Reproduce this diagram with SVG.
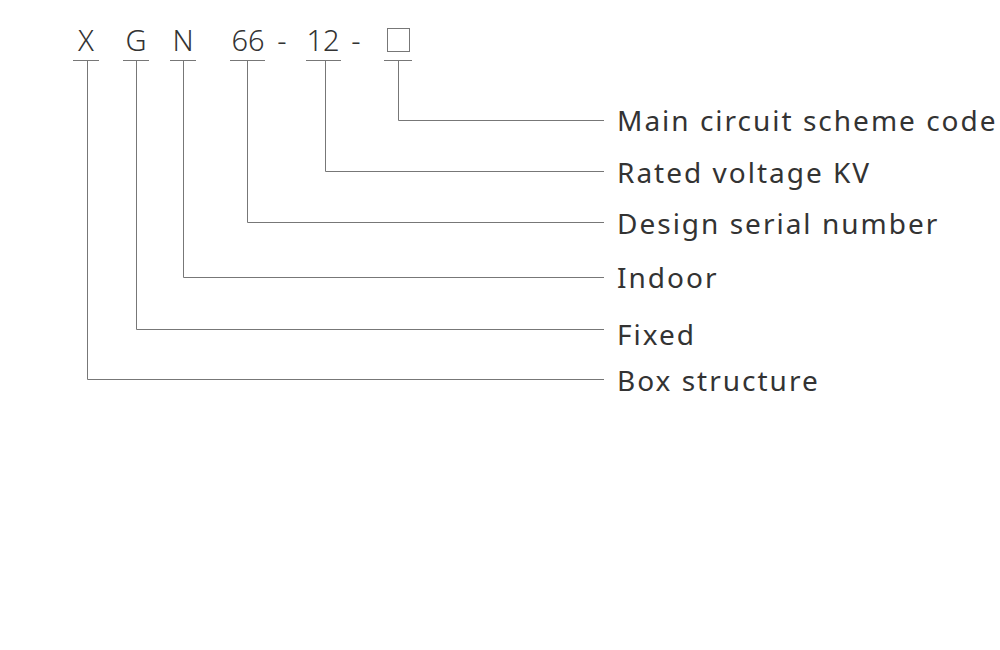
<svg xmlns="http://www.w3.org/2000/svg" width="1000" height="650" viewBox="0 0 1000 650">
<style>
.c{font-family:"Noto Sans","Liberation Sans",sans-serif;font-size:29px;fill:#333;font-weight:300}
.l{font-family:"Noto Sans","Liberation Sans",sans-serif;font-size:28px;fill:#333;letter-spacing:2px}
.k{stroke:#777;stroke-width:1;fill:none}
</style>
<rect width="1000" height="650" fill="#fff"/>
<g id="code">
<text class="c" x="86" y="51" text-anchor="middle">X</text>
<text class="c" x="136" y="51" text-anchor="middle">G</text>
<text class="c" x="183" y="51" text-anchor="middle">N</text>
<text class="c" x="248" y="51" text-anchor="middle">66</text>
<text class="c" x="282" y="51" text-anchor="middle">-</text>
<text class="c" x="323" y="51" text-anchor="middle">12</text>
<text class="c" x="356" y="51" text-anchor="middle">-</text>
<rect class="k" x="387.5" y="28.5" width="22" height="23" stroke="#444"/>
</g>
<g id="connectors" class="k">
<path d="M73 60.5H99M123 60.5H149M170 60.5H196M230 60.5H265M306 60.5H341M384 60.5H412"/>
<path d="M87.5 61V379.5H604"/>
<path d="M136.5 61V329.5H604"/>
<path d="M183.5 61V277.5H604"/>
<path d="M247.5 61V222.5H604"/>
<path d="M325.5 61V171.5H604"/>
<path d="M398.5 61V120.5H604"/>
</g>
<g id="labels">
<text class="l" x="617" y="131">Main circuit scheme code</text>
<text class="l" x="617" y="183">Rated voltage KV</text>
<text class="l" x="617" y="234">Design serial number</text>
<text class="l" x="617" y="288">Indoor</text>
<text class="l" x="617" y="345">Fixed</text>
<text class="l" x="617" y="391">Box structure</text>
</g>
</svg>
